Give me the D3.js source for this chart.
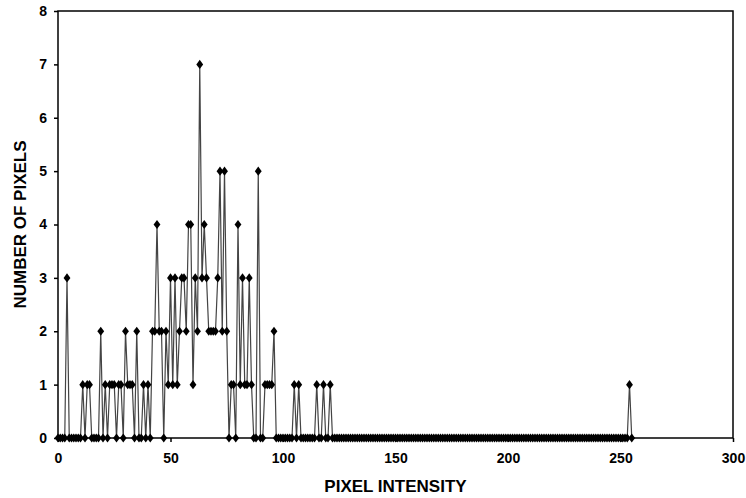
<!DOCTYPE html>
<meta charset="utf-8">
<html>
<head>
<style>
  body { margin: 0; background: #fff; }
  .axis text { font-family: Arial, "Liberation Sans", sans-serif; font-weight: bold; font-size: 14px; fill: #000; }
  .axis path, .axis line { stroke: #000; stroke-width: 1.5; }
</style>
</head>
<body>
<script src="https://d3js.org/d3.v7.min.js"></script>
<div id="my_dataviz"></div>

<script>
    // pixel counts per intensity (0..255)
    var counts_0_49 = [0,0,0,0,3,0,0,0,0,0, 0,1,0,1,1,0,0,0,0,2, 0,1,0,1,1,1,0,1,1,0, 2,1,1,1,0,2,0,0,1,0, 1,0,2,2,4,2,2,0,2,1];
    var counts_50_99 = [3,1,3,1,2,3,3,2,4,4, 1,3,2,7,3,4,3,2,2,2, 2,3,5,2,5,2,0,1,1,0, 4,1,3,1,1,3,1,0,0,5, 0,0,1,1,1,1,2,0,0,0];
    var counts_100_125 = [0,0,0,0,0,1,0,1,0,0, 0,0,0,0,0,1,0,0,1,0, 0,1,0,0,0,0];
    var spikeIntensity = 254, spikeCount = 1;
    var maxIntensity = 255;

    var xTicks = [0, 50, 100, 150, 200, 250, 300];
    var yTicks = [0, 1, 2, 3, 4, 5, 6, 7, 8];

    var counts = counts_0_49.concat(counts_50_99, counts_100_125);
    var data = [];
    for (var i = 0; i <= maxIntensity; i++) {
      var c = i < counts.length ? counts[i] : 0;
      if (i === spikeIntensity) c = spikeCount;
      data.push({x: i, y: c});
    }

    // set the dimensions and margins of the graph
    var margin = {top: 11, right: 13, bottom: 60, left: 58},
        width = 746 - margin.left - margin.right,
        height = 498 - margin.top - margin.bottom;

    var svg = d3.select("#my_dataviz")
      .append("svg")
        .attr("width", width + margin.left + margin.right)
        .attr("height", height + margin.top + margin.bottom)
      .append("g")
        .attr("transform", "translate(" + margin.left + "," + margin.top + ")");

    var x = d3.scaleLinear().domain([0, 300]).range([0, width]);
    var y = d3.scaleLinear().domain([0, 8]).range([height, 0]);

    // frame
    svg.append("rect")
      .attr("x", 0).attr("y", 0)
      .attr("width", width).attr("height", height)
      .attr("fill", "none")
      .attr("stroke", "#000")
      .attr("stroke-width", 1.5);

    svg.append("g")
      .attr("class", "axis")
      .attr("transform", "translate(0," + height + ")")
      .call(d3.axisBottom(x).tickValues(xTicks).tickSize(4).tickPadding(11))
      .call(function(g) { g.select(".domain").remove(); });

    svg.append("g")
      .attr("class", "axis")
      .call(d3.axisLeft(y).tickValues(yTicks).tickSize(4).tickPadding(7))
      .call(function(g) { g.select(".domain").remove(); });

    // line
    var line = d3.line()
      .x(function(d) { return x(d.x); })
      .y(function(d) { return y(d.y); });

    svg.append("path")
      .datum(data)
      .attr("fill", "none")
      .attr("stroke", "#444")
      .attr("stroke-width", 1.2)
      .attr("d", line);

    // diamond markers
    svg.selectAll(".pt")
      .data(data)
      .enter()
      .append("path")
        .attr("class", "pt")
        .attr("transform", function(d) { return "translate(" + x(d.x) + "," + y(d.y) + ") scale(1.3,1)"; })
        .attr("d", d3.symbol().type(d3.symbolDiamond).size(24))
        .attr("fill", "#000");

    // axis titles
    svg.append("text")
      .attr("x", width / 2)
      .attr("y", height + 54)
      .attr("text-anchor", "middle")
      .style("font-family", "Arial, 'Liberation Sans', sans-serif")
      .style("font-weight", "bold")
      .style("font-size", "17px")
      .text("PIXEL INTENSITY");

    svg.append("text")
      .attr("transform", "rotate(-90)")
      .attr("x", -height / 2)
      .attr("y", -margin.left + 26)
      .attr("text-anchor", "middle")
      .style("font-family", "Arial, 'Liberation Sans', sans-serif")
      .style("font-weight", "bold")
      .style("font-size", "17px")
      .text("NUMBER OF PIXELS");
</script>
</body>
</html>
